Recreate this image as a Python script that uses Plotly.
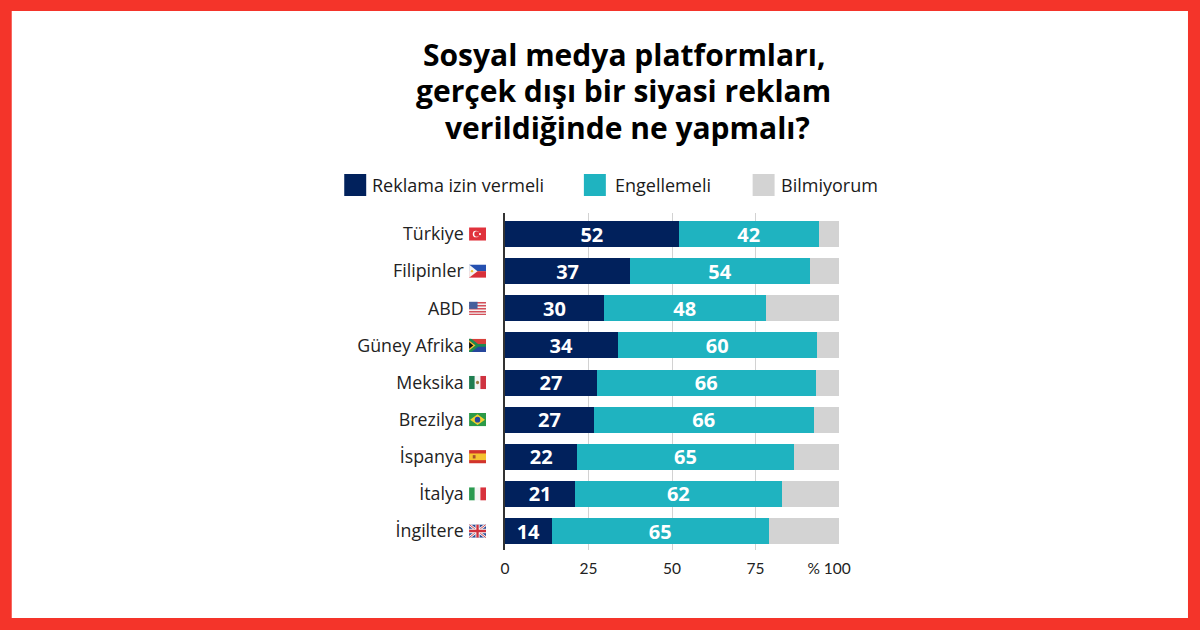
import base64
import plotly.graph_objects as go

# Values
countries = ["Türkiye", "Filipinler", "ABD", "Güney Afrika", "Meksika", "Brezilya", "İspanya", "İtalya", "İngiltere"]
allow = [52, 37.5, 29.6, 33.7, 27.5, 26.6, 21.7, 21, 14]
block = [41.9, 53.7, 48.4, 59.7, 65.5, 65.8, 64.7, 61.8, 64.9]
dont_know = [6.1, 8.8, 22, 6.6, 7, 7.6, 13.6, 17.2, 21.1]
allow_labels = ["52", "37", "30", "34", "27", "27", "22", "21", "14"]
block_labels = ["42", "54", "48", "60", "66", "66", "65", "62", "65"]
series_names = ["Reklama izin vermeli", "Engellemeli", "Bilmiyorum"]
title_lines = ["Sosyal medya platformları,", "gerçek dışı bir siyasi reklam", "verildiğinde ne yapmalı?"]
x_ticks = [0, 25, 50, 75, 100]
x_tick_labels = ["0", "25", "50", "75", "% 100\u00a0\u00a0\u00a0\u00a0\u00a0"]

NAVY = "#01215c"
TEAL = "#1fb3c0"
GREY = "#d3d3d3"
RED = "#f4342a"
W, H = 1200, 630
L, R, T, B = 505, 360.5, 213, 80

# small hand drawn flags, the emoji font is not available
FLAGS = {
    "Türkiye": '<rect width="16" height="12" fill="#e0323c"/><circle cx="6.5" cy="6" r="3" fill="#fff"/><circle cx="7.3" cy="6" r="2.4" fill="#e0323c"/><circle cx="10.3" cy="6" r="1" fill="#fff"/>',
    "Filipinler": '<rect width="16" height="6" fill="#2550b0"/><rect y="6" width="16" height="6" fill="#d8303a"/><path d="M0 0L8 6L0 12Z" fill="#f4f4f4"/><circle cx="2.8" cy="6" r="1.1" fill="#f2c230"/>',
    "ABD": '<rect width="16" height="12" fill="#f3f3f3"/><path d="M0 1H16M0 3.7H16M0 6.4H16M0 9.1H16M0 11.5H16" stroke="#d4505a" stroke-width="1.3"/><rect width="8" height="6.5" fill="#46609c"/>',
    "Güney Afrika": '<rect width="16" height="6" fill="#d8403a"/><rect y="6" width="16" height="6" fill="#26479c"/><path d="M0 0L8 6H16M0 12L8 6" stroke="#1d8a50" stroke-width="2.6" fill="none"/><path d="M0 1.5L6 6L0 10.5Z" fill="#f2c230"/><path d="M0 3L4 6L0 9Z" fill="#111"/>',
    "Meksika": '<rect width="5.4" height="12" fill="#1f7d50"/><rect x="5.4" width="5.3" height="12" fill="#f4f4f4"/><rect x="10.7" width="5.3" height="12" fill="#cf3340"/><circle cx="8" cy="6" r="1.5" fill="#9a7a40"/>',
    "Brezilya": '<rect width="16" height="12" fill="#2b9a48"/><path d="M8 1.2L15 6L8 10.8L1 6Z" fill="#f2cf30"/><circle cx="8" cy="6" r="2.6" fill="#26479c"/>',
    "İspanya": '<rect width="16" height="12" fill="#d2342c"/><rect y="3" width="16" height="6" fill="#f5c331"/><rect x="3.5" y="4.5" width="2.6" height="3" fill="#a8502c"/>',
    "İtalya": '<rect width="5.4" height="12" fill="#2b9a50"/><rect x="5.4" width="5.3" height="12" fill="#f4f4f4"/><rect x="10.7" width="5.3" height="12" fill="#d8323c"/>',
    "İngiltere": '<rect width="16" height="12" fill="#2c4a94"/><path d="M0 0L16 12M16 0L0 12" stroke="#f4f4f4" stroke-width="2.4"/><path d="M0 0L16 12M16 0L0 12" stroke="#d0303c" stroke-width="0.8"/><path d="M8 0V12M0 6H16" stroke="#f4f4f4" stroke-width="4"/><path d="M8 0V12M0 6H16" stroke="#d0303c" stroke-width="2.2"/>',
}


def flag_uri(body):
    svg = f'<svg xmlns="http://www.w3.org/2000/svg" viewBox="0 0 16 12" width="160" height="120">{body}</svg>'
    return "data:image/svg+xml;base64," + base64.b64encode(svg.encode("utf-8")).decode()


def px_x(v):
    return (v - L) / (W - L - R)


def px_y(v):
    return 1 - (v - T) / (H - T - B)


fig = go.Figure()
for vals, labels, name, color in [
    (allow, allow_labels, series_names[0], NAVY),
    (block, block_labels, series_names[1], TEAL),
    (dont_know, None, series_names[2], GREY),
]:
    fig.add_trace(go.Bar(
        y=countries, x=vals, name=name, orientation="h",
        marker=dict(color=color, line_width=0),
        text=labels, textposition="inside" if labels else "none",
        insidetextanchor="middle", textangle=0, constraintext="none",
        textfont=dict(family="Open Sans", size=20, color="white", weight=700),
        hoverinfo="skip",
    ))

# white card on the red page
fig.add_shape(type="rect", xref="paper", yref="paper", layer="below", line_width=0, fillcolor="white",
              x0=px_x(11), x1=px_x(1189), y0=px_y(618), y1=px_y(11))

for line, y, x in zip(title_lines, [54, 91, 127], [624, 624, 628]):
    fig.add_annotation(text=line, xref="paper", yref="paper", x=px_x(x), y=px_y(y), showarrow=False,
                       xanchor="center", yanchor="middle",
                       font=dict(family="Open Sans", size=30, color="black", weight=700))

# legend, spaced by hand
legend_pos = [(344, 372), (584, 615), (753, 781)]
for (sx, tx), name, color in zip(legend_pos, series_names, [NAVY, TEAL, GREY]):
    fig.add_shape(type="rect", xref="paper", yref="paper", line_width=0, fillcolor=color,
                  x0=px_x(sx), x1=px_x(sx + 22), y0=px_y(196), y1=px_y(174))
    fig.add_annotation(text=name, xref="paper", yref="paper", x=px_x(tx), y=px_y(185), showarrow=False,
                       xanchor="left", yanchor="middle", xshift=-2,
                       font=dict(family="Open Sans", size=18, color="#1a1a1a"))

for c in countries:
    fig.add_layout_image(source=flag_uri(FLAGS[c]), xref="paper", yref="y", x=px_x(469), y=c,
                         sizex=17 / (W - L - R), sizey=0.36, xanchor="left", yanchor="middle",
                         sizing="stretch", layer="above")

fig.update_layout(
    width=W, height=H, margin=dict(l=L, r=R, t=T, b=B),
    paper_bgcolor=RED, plot_bgcolor="white",
    barmode="stack", bargap=0.3, showlegend=False,
    xaxis=dict(
        range=[0, 100], tickvals=x_ticks, ticktext=x_tick_labels, showgrid=True, gridcolor="#d2d2d2",
        gridwidth=1, zeroline=False, ticks="", ticklabelstandoff=7,
        tickfont=dict(family="Lato", size=15.5, color="#222"),
    ),
    yaxis=dict(
        categoryorder="array", categoryarray=countries, range=[8.51, -0.566], showline=True,
        linecolor="#333", linewidth=1.5, ticks="", ticklabelstandoff=36,
        tickfont=dict(family="Open Sans", size=17.8, color="#222"),
    ),
)
# the page's default body margin would push the figure off its place
fig.write_html("out.html", config={"displayModeBar": False}, post_script="document.body.style.margin='0';")
